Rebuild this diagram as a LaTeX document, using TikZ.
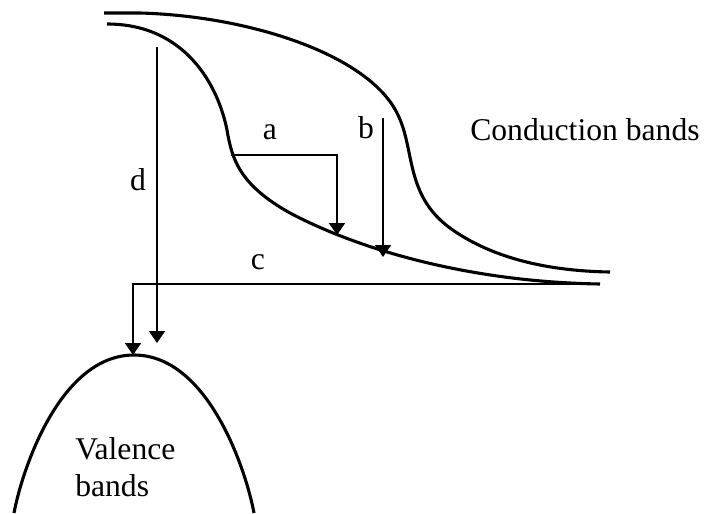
\documentclass[tikz,border=0pt]{standalone}
\usepackage{fontspec}
\setmainfont{Liberation Serif}
\usetikzlibrary{arrows.meta,positioning}

\begin{document}
\begin{tikzpicture}[x=0.025cm,y=-0.025cm,>={Triangle[length=0.3cm,width=0.4cm]},
  band/.style={line width=2.2pt},
  trans/.style={->,line width=1.3pt},
  lbl/.style={font=\fontsize{22.5}{26.2}\selectfont,inner sep=0pt}]
\useasboundingbox (0,0) rectangle (716,513);
% conduction bands
\draw[band] (104,13) -- (140,13) .. controls (250,16) and (370,55) .. (398,115)
  .. controls (415,150) and (405,195) .. (450,228) .. controls (490,257) and (545,271) .. (610,272);
\draw[band] (107,24) .. controls (185,24) and (218,85) .. (227,130)
  .. controls (232,160) and (240,185) .. (290,213) .. controls (360,250) and (470,282) .. (600,284);
% valence band
\draw[band] (14,513) .. controls (22,470) and (60,355) .. (134,355) .. controls (208,355) and (246,470) .. (254,513);
\coordinate (a0) at (231,155);
\coordinate (a1) at (337,235);
\coordinate (b0) at (383,118);
\coordinate (b1) at (383,257);
\coordinate (c0) at (600,284);
\coordinate (vtop) at (133,355);
\coordinate (d0) at (157,47);
\coordinate (d1) at (157,343);
\draw[trans] (a0) -| (a1);
\draw[trans] (b0) -- (b1);
\draw[trans] (c0) -| (vtop);
\draw[trans] (d0) -- (d1);
\node[lbl] (la) at (270,132) {a};
\node[lbl] (lb) at (366,128) {b};
\node[lbl] (lc) at (258,262) {c};
\node[lbl] (ld) at (138,180) {d};
\node[lbl,anchor=west] (cond) at (470,130) {Conduction bands};
\node[lbl,align=left,anchor=north west] (val) at (75,437) {Valence\\bands};
\end{tikzpicture}
\end{document}
